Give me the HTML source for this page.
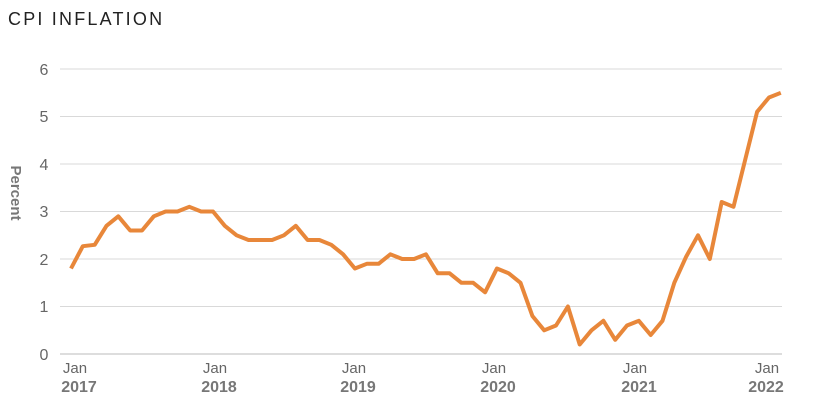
<!DOCTYPE html>
<html><head><meta charset="utf-8"><style>
body{margin:0;background:#fff;}
svg{display:block;font-family:"Liberation Sans Narrow","Liberation Sans",sans-serif;}
</style></head><body>
<svg width="822" height="420" xmlns="http://www.w3.org/2000/svg">
<text x="8" y="25" font-size="18" fill="#222" letter-spacing="2.2">CPI INFLATION</text>
<g stroke="#d9d9d9" stroke-width="1">
<line x1="60" x2="782" y1="69" y2="69"/><line x1="60" x2="782" y1="116.5" y2="116.5"/>
<line x1="60" x2="782" y1="164" y2="164"/><line x1="60" x2="782" y1="211.5" y2="211.5"/>
<line x1="60" x2="782" y1="259" y2="259"/><line x1="60" x2="782" y1="306.5" y2="306.5"/>
</g>
<line x1="60" x2="782" y1="354" y2="354" stroke="#bbb" stroke-width="1"/>
<g font-size="16" fill="#666" text-anchor="middle">
<text x="44" y="75">6</text><text x="44" y="122">5</text><text x="44" y="170">4</text>
<text x="44" y="217">3</text><text x="44" y="265">2</text><text x="44" y="312">1</text><text x="44" y="360">0</text>
</g>
<text transform="translate(11,193) rotate(90)" font-size="15" font-weight="bold" fill="#777" text-anchor="middle">Percent</text>
<g font-size="15" fill="#666" text-anchor="middle">
<text x="75" y="373">Jan</text><text x="215" y="373">Jan</text><text x="354" y="373">Jan</text>
<text x="494" y="373">Jan</text><text x="635" y="373">Jan</text><text x="767" y="373">Jan</text>
</g>
<g font-size="16" font-weight="bold" fill="#777" text-anchor="middle">
<text x="79" y="392">2017</text><text x="219" y="392">2018</text><text x="358" y="392">2019</text>
<text x="498" y="392">2020</text><text x="639" y="392">2021</text><text x="766" y="392">2022</text>
</g>
<polyline fill="none" stroke="#e8873a" stroke-width="4" stroke-linejoin="round" points="71.0,268.5 82.8,246.2 94.7,244.8 106.5,225.8 118.3,216.3 130.2,230.5 142.0,230.5 153.8,216.3 165.6,211.5 177.5,211.5 189.3,206.8 201.1,211.5 213.0,211.5 224.8,225.8 236.6,235.3 248.5,240.0 260.3,240.0 272.1,240.0 283.9,235.3 295.8,225.8 307.6,240.0 319.4,240.0 331.3,244.8 343.1,254.3 354.9,268.5 366.8,263.8 378.6,263.8 390.4,254.3 402.2,259.0 414.1,259.0 425.9,254.3 437.7,273.3 449.6,273.3 461.4,282.8 473.2,282.8 485.1,292.3 496.9,268.5 508.7,273.3 520.5,282.8 532.4,316.0 544.2,330.3 556.0,325.5 567.9,306.5 579.7,344.5 591.5,330.3 603.4,320.8 615.2,339.8 627.0,325.5 638.8,320.8 650.7,335.0 662.5,320.8 674.3,282.8 686.2,256.6 698.0,235.3 709.8,259.0 721.7,202.0 733.5,206.8 745.3,159.3 757.1,111.8 769.0,97.5 780.8,92.8"/>
</svg>
</body></html>
